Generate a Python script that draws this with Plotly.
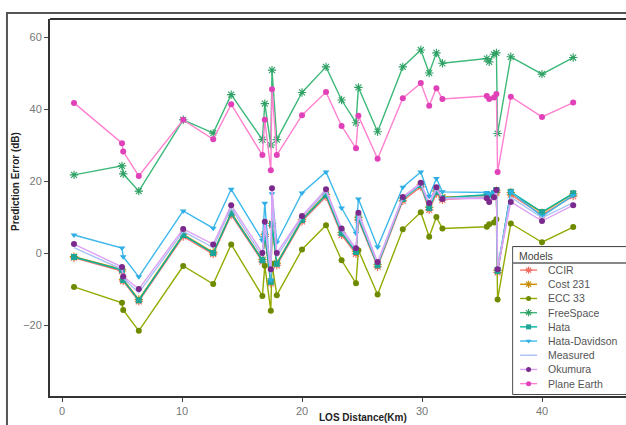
import plotly.graph_objects as go

# LOS distance (km), shared by all models
distance = [1.0, 5.0, 5.1, 6.4, 10.1, 12.6, 14.1, 16.7, 16.9, 17.4, 17.5, 17.9, 20.0,
            22.0, 23.3, 24.5, 24.7, 26.3, 28.4, 29.9, 30.6, 31.2, 31.7, 35.4, 35.6,
            36.0, 36.2, 36.3, 37.4, 40.0, 42.6]

ccir = [-1.3, -5.0, -7.8, -13.4, 4.6, -0.3, 10.6, -2.4, 4.6, -8.4, 7.6, -3.4, 8.8,
        15.6, 5.0, -0.2, 9.2, -3.8, 14.5, 18.4, 12.0, 16.5, 14.8, 15.6, 15.4,
        15.8, 16.8, -5.4, 16.2, 10.6, 15.8]
cost231 = [-1.0, -4.5, -7.3, -12.9, 5.2, 0.2, 11.2, -1.8, 5.2, -7.8, 8.2, -2.8, 9.4,
           16.3, 5.7, 0.5, 9.9, -3.2, 15.2, 19.1, 12.7, 17.2, 15.5, 16.0, 15.8,
           16.3, 17.3, -4.8, 16.8, 11.2, 16.4]
ecc33 = [-9.4, -13.8, -15.8, -21.6, -3.6, -8.6, 2.4, -11.9, -3.5, -16.0, -3.0, -11.7, 1.0,
         7.7, -2.0, -8.4, 0.8, -11.5, 6.6, 11.3, 4.5, 10.0, 6.8, 7.3, 8.0,
         8.5, 9.4, -12.9, 8.2, 3.0, 7.2]
freespace = [21.7, 24.2, 22.0, 17.2, 37.0, 33.3, 44.0, 31.5, 41.5, 30.0, 50.8, 31.5, 44.6,
             51.7, 42.5, 36.2, 46.0, 33.7, 51.7, 56.4, 50.0, 55.6, 52.7, 54.0, 53.1,
             55.2, 55.6, 33.2, 54.5, 49.7, 54.3]
hata = [-1.1, -4.7, -7.5, -13.1, 5.0, 0.0, 11.0, -2.0, 5.0, -8.0, 8.0, -3.0, 9.2,
        16.1, 5.5, 0.3, 9.7, -3.4, 15.0, 18.9, 12.5, 17.0, 15.3, 16.2, 16.0,
        16.5, 17.5, -5.0, 17.0, 11.4, 16.6]
hata_davidson = [5.0, 1.4, -1.0, -6.6, 11.7, 6.9, 17.7, 3.5, 13.8, -7.5, 16.5, 3.0, 16.7,
                 22.5, 12.5, 5.5, 15.0, 1.7, 18.3, 22.5, 15.8, 20.7, 17.0, 16.8, 16.5,
                 17.0, 17.5, -4.3, 17.0, 10.2, 16.0]
measured = [1.5, -4.5, -7.0, -11.0, 6.0, 1.5, 12.5, -1.0, 7.5, -6.0, 14.0, -1.0, 10.0,
            17.0, 6.2, 0.8, 10.5, -3.0, 15.3, 19.2, 13.2, 17.7, 15.2, 15.6, 15.0,
            15.8, 16.9, -4.0, 15.5, 9.8, 14.0]
okumura = [2.5, -3.9, -6.5, -10.0, 6.7, 2.4, 13.3, 0.0, 8.7, -4.5, 18.0, 0.0, 10.3,
           17.7, 6.8, 1.3, 11.2, -2.5, 15.6, 19.5, 13.9, 18.3, 15.0, 15.2, 14.2,
           15.5, 17.5, -4.5, 14.2, 8.9, 13.3]
plane_earth = [41.7, 30.5, 28.2, 21.4, 37.0, 31.6, 41.3, 27.2, 37.0, 23.0, 45.5, 27.2, 38.3,
               44.7, 35.3, 29.1, 38.1, 26.2, 43.0, 47.2, 40.9, 45.8, 42.8, 43.6, 42.8,
               43.2, 44.2, 22.5, 43.4, 37.8, 41.8]

x_ticks = [0, 10, 20, 30, 40]
y_ticks = [-20, 0, 20, 40, 60]

# name, values, line colour, marker colour, marker symbol
series = [
    ("CCIR", ccir, "#F8766D", "#F26A60", "asterisk-open"),
    ("Cost 231", cost231, "#D39200", "#C98A00", "asterisk-open"),
    ("ECC 33", ecc33, "#93AA00", "#6E8B00", "circle"),
    ("FreeSpace", freespace, "#3CB878", "#2EA064", "asterisk-open"),
    ("Hata", hata, "#00B5A0", "#1FA597", "square"),
    ("Hata-Davidson", hata_davidson, "#3DB8EC", "#2FAEE6", "triangle-down"),
    ("Measured", measured, "#A9C0F5", "#A9C0F5", None),
    ("Okumura", okumura, "#DDA0F5", "#7A2A8C", "circle"),
    ("Plane Earth", plane_earth, "#FF80D0", "#E040B8", "circle"),
]


def marker_style(mc, sym, size):
    if sym.endswith("-open"):
        return dict(color=mc, size=size + 1, symbol=sym, line=dict(color=mc, width=1.1))
    return dict(color=mc, size=size, symbol=sym)


fig = go.Figure()
for name, ys, lc, mc, sym in series:
    if sym is None:
        fig.add_trace(go.Scatter(x=distance, y=ys, name=name, mode="lines",
                                 line=dict(color=lc, width=1.4), showlegend=False))
    else:
        fig.add_trace(go.Scatter(x=distance, y=ys, name=name, mode="lines+markers",
                                 line=dict(color=lc, width=1.4),
                                 marker=marker_style(mc, sym, 6), showlegend=False))

# ---- compact legend drawn in its own small subplot (row index = series order)
for i, (name, ys, lc, mc, sym) in enumerate(series):
    row = i + 1
    fig.add_trace(go.Scatter(x=[7, 24], y=[row, row], mode="lines", xaxis="x2", yaxis="y2",
                             line=dict(color=lc, width=1.4), showlegend=False,
                             hoverinfo="skip"))
    if sym is not None:
        fig.add_trace(go.Scatter(x=[15.5], y=[row], mode="markers", xaxis="x2", yaxis="y2",
                                 marker=marker_style(mc, sym, 5), showlegend=False,
                                 hoverinfo="skip"))
    fig.add_annotation(text=name, xref="x2", yref="y2", x=33, y=row, xanchor="left",
                       yanchor="middle", showarrow=False, font=dict(size=10.5, color="#555"))
fig.add_annotation(text="Models", xref="x2", yref="y2", x=4, y=0, xanchor="left",
                   yanchor="middle", showarrow=False, font=dict(size=10.5, color="#444"))

fig.update_layout(
    width=626, height=425,
    margin=dict(l=50, r=0, t=19, b=29, autoexpand=False),
    plot_bgcolor="white", paper_bgcolor="white",
    font=dict(family="Liberation Sans, Arial, sans-serif", size=11, color="#666"),
    xaxis=dict(range=[-1.0, 47.0], tickvals=x_ticks, showgrid=False, zeroline=False,
               showline=True, linecolor="#333", linewidth=2, ticks="outside",
               ticklen=4, tickcolor="#444", tickfont=dict(size=11, color="#777")),
    yaxis=dict(range=[-39.7, 65.0], tickvals=y_ticks, showgrid=False, zeroline=False,
               showline=True, linecolor="#333", linewidth=2, ticks="outside",
               ticklen=4, tickcolor="#444", tickfont=dict(size=11, color="#777")),
    xaxis2=dict(domain=[0.804, 1.0], range=[0, 113], visible=False, anchor="y2",
                fixedrange=True),
    yaxis2=dict(domain=[0.0053, 0.395], range=[9.73, -0.62], visible=False, anchor="x2",
                fixedrange=True),
    showlegend=False,
)

fig.add_annotation(text="<b>Prediction Error (dB)</b>", xref="paper", yref="paper",
                   x=-0.061, y=0.57, xanchor="center", yanchor="middle", textangle=-90,
                   showarrow=False, font=dict(size=10, color="#222"))
fig.add_annotation(text="<b>LOS Distance(Km)</b>", xref="paper", yref="paper",
                   x=0.543, y=-0.058, xanchor="center", yanchor="middle",
                   showarrow=False, font=dict(size=10, color="#222"))

# outer frame and top panel border
fig.add_shape(type="rect", xref="paper", yref="paper", x0=-0.0747, x1=1.05,
              y0=-0.2, y1=1.016, line=dict(color="#555", width=2))
fig.add_shape(type="line", xref="paper", yref="paper", x0=0, x1=1, y0=1, y1=1,
              line=dict(color="#333", width=2))

# legend box (drawn below the legend glyphs), with title separator
fig.add_shape(type="rect", xref="paper", yref="paper", x0=0.804, x1=1.02,
              y0=0.0053, y1=0.395, line=dict(color="#111", width=1.5),
              fillcolor="white", layer="below")
fig.add_shape(type="line", xref="x2", yref="y2", x0=0, x1=113, y0=0.5, y1=0.5,
              line=dict(color="#111", width=1.2))

fig.write_html("out.html", config={"displayModeBar": False},
               post_script="document.body.style.margin='0px';document.body.style.overflow='hidden';")
